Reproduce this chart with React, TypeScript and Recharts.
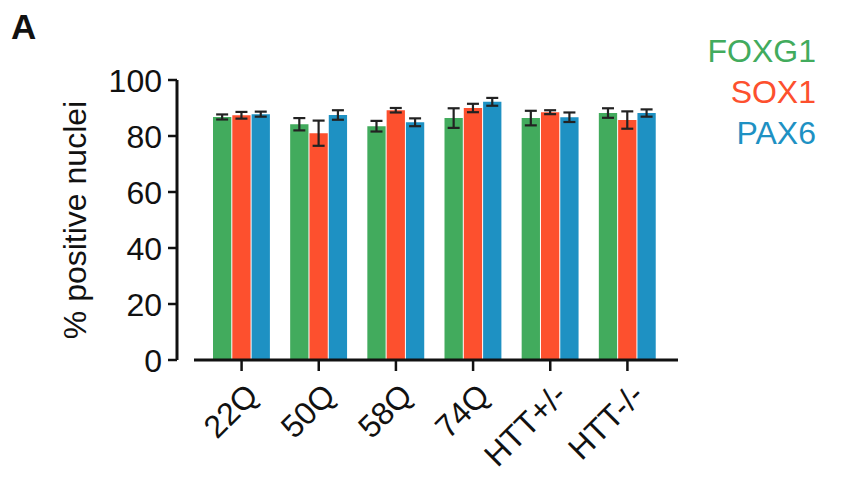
import React from 'react';
import { BarChart, Bar, XAxis, YAxis, ErrorBar } from 'recharts';

const categories = ['22Q', '50Q', '58Q', '74Q', 'HTT+/-', 'HTT-/-'];
const foxg1 = [86.8, 84.2, 83.5, 86.4, 86.4, 88.2];
const foxg1Err = [0.9, 2.2, 1.9, 3.5, 2.6, 1.7];
const sox1 = [87.4, 81.0, 89.2, 90.0, 88.5, 85.7];
const sox1Err = [1.2, 4.5, 0.8, 1.5, 0.7, 3.1];
const pax6 = [87.8, 87.5, 84.9, 92.2, 86.7, 88.2];
const pax6Err = [0.9, 1.7, 1.4, 1.4, 1.7, 1.3];
const yTicks = [0, 20, 40, 60, 80, 100];

const series = [
  { key: 'FOXG1', err: 'FOXG1_err', color: '#42ab5d' },
  { key: 'SOX1', err: 'SOX1_err', color: '#fd502e' },
  { key: 'PAX6', err: 'PAX6_err', color: '#1e91c3' },
];

const data = categories.map((name, i) => ({
  name,
  FOXG1: foxg1[i],
  FOXG1_err: foxg1Err[i],
  SOX1: sox1[i],
  SOX1_err: sox1Err[i],
  PAX6: pax6[i],
  PAX6_err: pax6Err[i],
}));

const FONT = '"Liberation Sans", Arial, Helvetica, sans-serif';

const XTick = (props: any) => {
  const { x, y, payload } = props;
  return (
    <text
      transform={`translate(${x + 2},${y + 8}) rotate(-45)`}
      textAnchor="end"
      dy="0.72em"
      fontSize={32}
      fontFamily={FONT}
      fill="#111"
    >
      {payload.value}
    </text>
  );
};

const YTick = (props: any) => {
  const { x, y, payload } = props;
  return (
    <text x={x - 4} y={y} dy="0.36em" textAnchor="end" fontSize={32} fontFamily={FONT} fill="#111">
      {payload.value}
    </text>
  );
};

export default function App() {
  return (
    <div style={{ position: 'absolute', left: 0, top: 0, width: 842, height: 480, background: '#fff' }}>
      <div
        style={{
          position: 'absolute',
          left: 11,
          top: 7,
          fontFamily: FONT,
          fontWeight: 'bold',
          fontSize: 35,
          color: '#111',
        }}
      >
        A
      </div>
      {/* series key: coloured names stacked at top right */}
      <div
        style={{
          position: 'absolute',
          right: 26,
          top: 31,
          fontFamily: FONT,
          fontSize: 32,
          lineHeight: '41px',
          textAlign: 'right',
          zIndex: 1,
        }}
      >
        {series.map((s) => (
          <div key={s.key} style={{ color: s.color }}>
            {s.key}
          </div>
        ))}
      </div>
      <BarChart
        width={842}
        height={480}
        data={data}
        margin={{ top: 80, right: 164, bottom: 0, left: 0 }}
        barGap={1}
        barSize={18.3}
      >
        <XAxis
          dataKey="name"
          height={120}
          padding={{ left: 26, right: 12 }}
          axisLine={{ stroke: '#111', strokeWidth: 3, strokeDasharray: '0 17 3000' }}
          tickLine={{ stroke: '#111', strokeWidth: 2.5 }}
          tickSize={11}
          tick={<XTick />}
          interval={0}
        />
        <YAxis
          width={177}
          domain={[0, 100]}
          ticks={yTicks}
          interval={0}
          axisLine={{ stroke: '#111', strokeWidth: 3 }}
          tickLine={{ stroke: '#111', strokeWidth: 2.5 }}
          tickSize={9}
          tick={<YTick />}
          label={() => (
            <text
              transform="translate(86,220) rotate(-90)"
              textAnchor="middle"
              fontSize={32}
              fontFamily={FONT}
              fill="#111"
            >
              % positive nuclei
            </text>
          )}
        />
        {series.map((s) => (
          <Bar key={s.key} dataKey={s.key} fill={s.color} isAnimationActive={false}>
            <ErrorBar dataKey={s.err} width={6} stroke="#222" strokeWidth={2.2} />
          </Bar>
        ))}
      </BarChart>
    </div>
  );
}
